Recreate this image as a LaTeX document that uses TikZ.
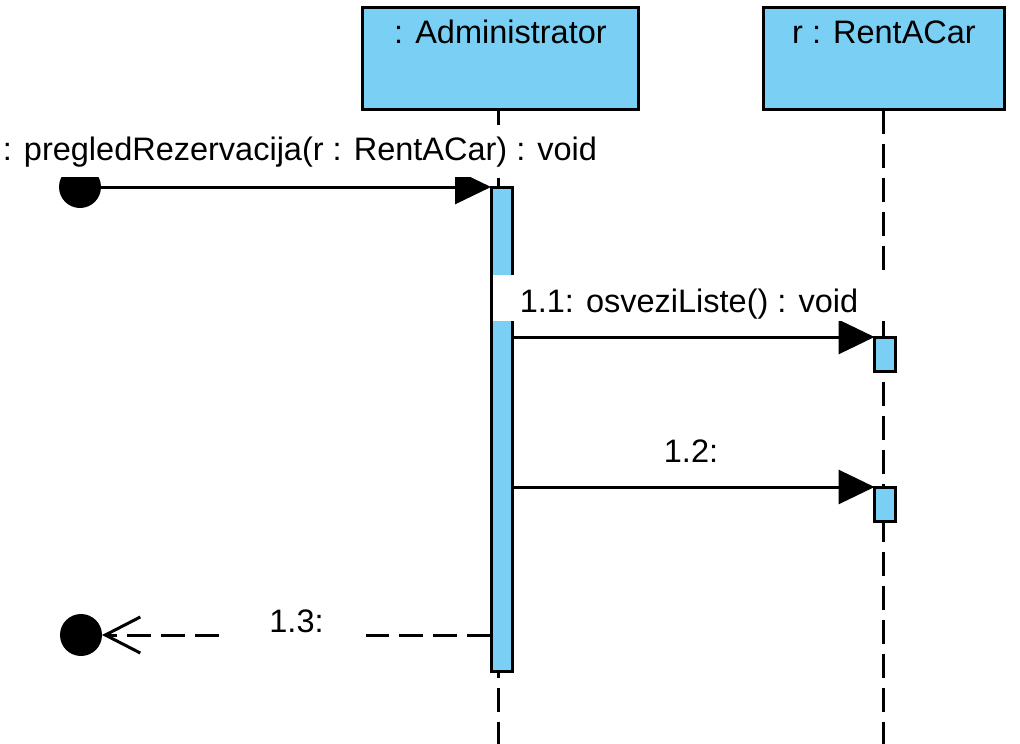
\documentclass[tikz,border=0pt]{standalone}
\usepackage{fontspec}
\setmainfont{Liberation Sans}
\usetikzlibrary{arrows.meta}
\definecolor{vpblue}{RGB}{122,207,245}
\tikzset{
  lbl/.style={font=\fontsize{32.5}{39}\selectfont, inner sep=0pt, fill=white, anchor=base},
  objbox/.style={draw, fill=vpblue, line width=3pt, inner sep=0pt, outer sep=0pt,
    font=\fontsize{32.5}{39}\selectfont, text height=25pt, text depth=56pt},
  actbar/.style={draw, fill=vpblue, line width=3pt, inner sep=0pt, outer sep=0pt, minimum width=21pt},
  lifeline/.style={line width=3pt, dash pattern=on 24pt off 10pt},
  callmsg/.style={line width=3pt, -{Triangle[length=36pt,width=34pt]}},
  retmsg/.style={line width=3pt, dash pattern=on 24pt off 10pt, -{Straight Barb[length=35pt,width=36pt]}},
  endpoint/.style={circle, fill=black, inner sep=0pt, outer sep=0pt, minimum size=42pt}
}
\begin{document}
\begin{tikzpicture}[x=1pt,y=-1pt]
\useasboundingbox[fill=white] (0,0) rectangle (1020,744);
\coordinate (bot) at (0,744);

% lifelines
\coordinate (admll) at (498,109.5);
\coordinate (racll) at (883,109.5);
\draw[lifeline] (admll) -- (admll |- bot);
\draw[lifeline] (racll) -- (racll |- bot);

% lifeline heads
\node[objbox, minimum width=276pt, minimum height=102pt] (adm) at (500.5,58.5) {: Administrator};
\node[objbox, minimum width=241pt, minimum height=102pt] (rac) at (884,58.5) {r : RentACar};

% activation bars
\node[actbar, minimum height=484pt] (ab) at (501.5,429) {};
\node[actbar, minimum height=34.5pt] (rb1) at (885,354.25) {};
\node[actbar, minimum height=34.5pt] (rb2) at (885,504.25) {};

% found message and return target
\node[endpoint] (f1) at (80,187) {};
\node[endpoint] (r1) at (81,635) {};

% messages
\draw[callmsg] (f1.east) -- (f1 -| ab.west);
\draw[callmsg] (rb1.north west -| ab.east) -- (rb1.north west);
\draw[callmsg] (rb2.north west -| ab.east) -- (rb2.north west);
\draw[retmsg] (r1 -| ab.west) -- (r1.east);

% labels
\node[lbl, minimum width=660pt, text height=35pt, text depth=17pt] (l1) at (300,160) {: pregledRezervacija(r : RentACar) : void};
\node[lbl, minimum width=393pt, text height=37pt, text depth=9pt] (l11) at (689,312) {1.1: osveziListe() : void};
\node[lbl, minimum width=110pt, text height=30pt, text depth=9pt] (l12) at (691,462) {1.2:};
\node[lbl, minimum width=139pt, text height=30pt, text depth=10pt] (l13) at (296.5,632) {1.3:};
\end{tikzpicture}
\end{document}
